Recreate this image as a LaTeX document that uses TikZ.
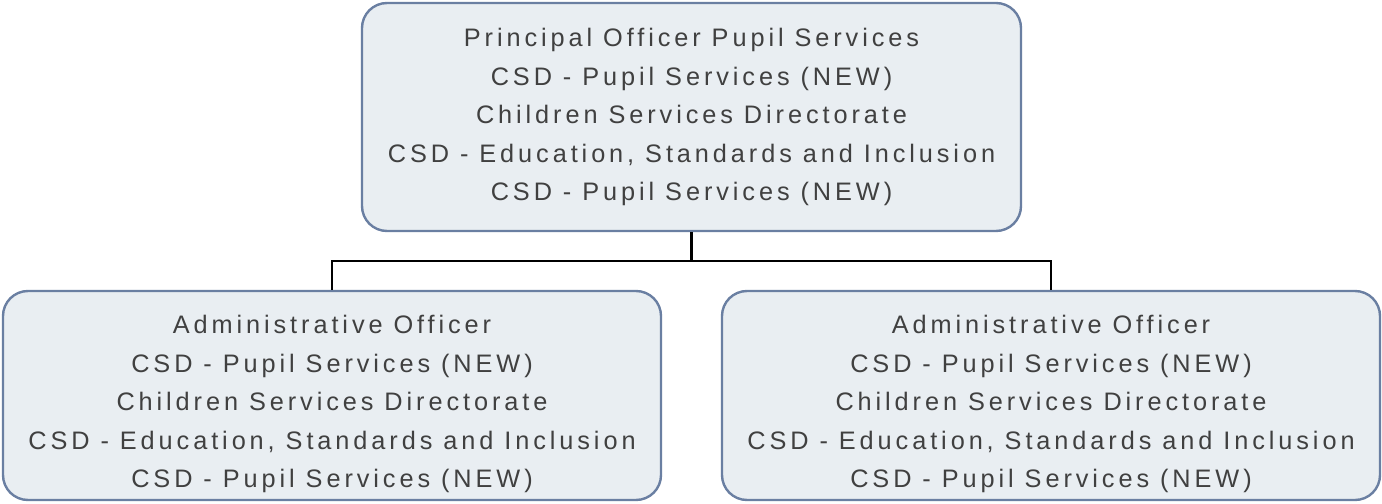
\documentclass[tikz,border=0pt]{standalone}
\usepackage{fontspec}
\setmainfont[LetterSpace=15.5]{Liberation Sans}
\definecolor{boxfill}{HTML}{E9EEF2}
\definecolor{boxline}{HTML}{6A7FA2}
\definecolor{txt}{HTML}{404040}
\begin{document}
\begin{tikzpicture}[x=1bp,y=-1bp,
  box/.style={draw=boxline, fill=boxfill, line width=2.4bp, rounded corners=25bp, inner sep=0pt},
  lbl/.style={text=txt, align=center, inner sep=0pt, font=\fontsize{25.3bp}{38.5bp}\selectfont},
  link/.style={draw=black, line width=2.6bp}]
\useasboundingbox (0,0) rectangle (1382,504);
\node[box, minimum width=659bp, minimum height=228bp] (top) at (691.5,117) {};
\node[box, minimum width=658bp, minimum height=209bp] (left) at (332,395.5) {};
\node[box, minimum width=658bp, minimum height=209bp] (right) at (1051,395.5) {};
\node[lbl] (toptext) at (691.5,117) {Principal Officer Pupil Services\\CSD - Pupil Services (NEW)\\Children Services Directorate\\CSD - Education, Standards and Inclusion\\CSD - Pupil Services (NEW)};
\node[lbl] (lefttext) at (332,404) {Administrative Officer\\CSD - Pupil Services (NEW)\\Children Services Directorate\\CSD - Education, Standards and Inclusion\\CSD - Pupil Services (NEW)};
\node[lbl] (righttext) at (1051,404) {Administrative Officer\\CSD - Pupil Services (NEW)\\Children Services Directorate\\CSD - Education, Standards and Inclusion\\CSD - Pupil Services (NEW)};
\coordinate (mid) at (691.5,261);
\draw[link] (top.south) -- (mid);
\draw[link] (left.north) |- (mid) -| (right.north);
\end{tikzpicture}
\end{document}
